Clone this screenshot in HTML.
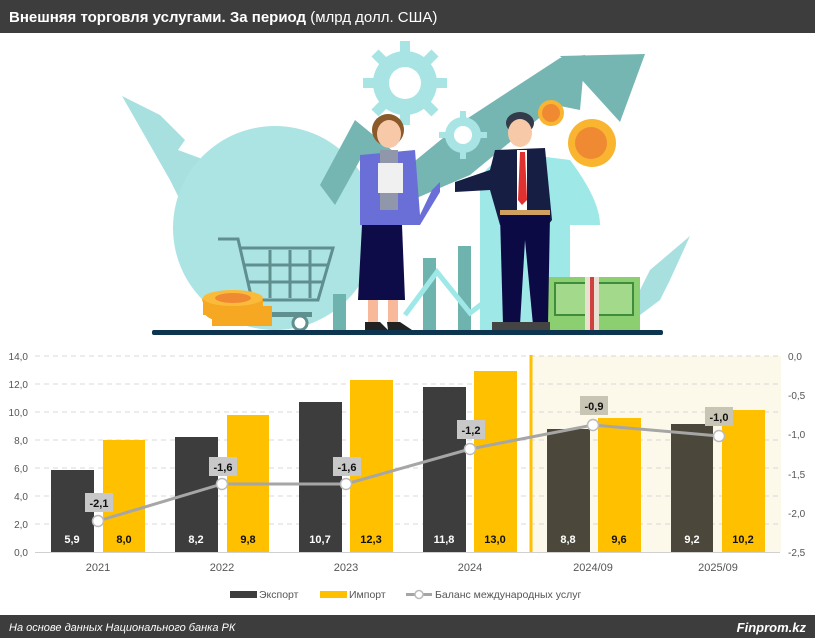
<!DOCTYPE html>
<html><head><meta charset="utf-8"><style>
html,body{margin:0;padding:0;background:#fff;}
svg{display:block;font-family:"Liberation Sans",sans-serif;}
</style></head><body>
<svg width="815" height="638" viewBox="0 0 815 638" xmlns="http://www.w3.org/2000/svg">
<rect x="0" y="0" width="815" height="638" fill="#fff"/>
<rect x="0" y="0" width="815" height="33" fill="#3d3d3d"/>
<text x="9" y="22" font-size="15" fill="#fff" font-weight="bold">Внешняя торговля услугами. За период <tspan font-weight="normal">(млрд долл. США)</tspan></text>

<!-- illustration -->
<g>
<path d="M122 96 L160 115 L185 140 L178 150 L205 160 L222 185 L212 195 L230 205 L200 240 L180 200 L170 180 Z" fill="#a8e0e0"/>
<circle cx="275" cy="228" r="102" fill="#ace4e4"/>
<path d="M320 185 L355 120 L410 165 L465 120 L560 58 L585 55 L580 110 L555 105 L470 175 L412 200 L360 160 L335 205 Z" fill="#75b6b3"/>
<path d="M560 56 L645 54 L620 122 Z" fill="#75b6b3"/>
<path d="M590 330 L640 290 L650 270 L690 236 L670 280 L660 300 L620 330 Z" fill="#a8e0e0"/>
<circle cx="405" cy="83" r="32" fill="#a8e4e4"/>
<g stroke="#a8e4e4" stroke-width="10"><line x1="405" y1="41" x2="405" y2="125"/><line x1="363" y1="83" x2="447" y2="83"/><line x1="375" y1="53" x2="435" y2="113"/><line x1="435" y1="53" x2="375" y2="113"/></g>
<circle cx="405" cy="83" r="16" fill="#fff"/>
<circle cx="463" cy="135" r="18" fill="#a8e4e4"/>
<g stroke="#a8e4e4" stroke-width="6"><line x1="463" y1="111" x2="463" y2="159"/><line x1="439" y1="135" x2="487" y2="135"/></g>
<circle cx="463" cy="135" r="9" fill="#fff"/>
<path d="M480 330 L480 180 Q490 155 530 155 L570 160 Q600 200 600 225 L570 225 L570 330 Z" fill="#9ee8e8"/>
<rect x="333" y="294" width="13" height="37" fill="#6fb3ae"/>
<rect x="423" y="258" width="13" height="73" fill="#6fb3ae"/>
<rect x="458" y="246" width="13" height="85" fill="#6fb3ae"/>
<polyline points="405,315 437,272 470,313 500,290" fill="none" stroke="#9ee8e8" stroke-width="5"/>
<g fill="none" stroke="#5f8f8f" stroke-width="3"><polyline points="218,239 238,239 252,300 318,300 333,248 240,248"/><line x1="245" y1="265" x2="328" y2="265"/><line x1="248" y1="282" x2="322" y2="282"/><line x1="270" y1="250" x2="270" y2="298"/><line x1="290" y1="250" x2="290" y2="298"/><line x1="310" y1="250" x2="310" y2="298"/></g>
<rect x="250" y="312" width="62" height="5" fill="#5f8f8f"/>
<circle cx="300" cy="323" r="7" fill="#fff" stroke="#5f8f8f" stroke-width="3"/>
<ellipse cx="238" cy="313" rx="33" ry="10" fill="#f7a823"/>
<rect x="212" y="306" width="60" height="20" fill="#f7a823"/>
<ellipse cx="232" cy="300" rx="30" ry="9" fill="#f9b530"/>
<rect x="203" y="300" width="60" height="15" fill="#f7a823"/>
<ellipse cx="233" cy="298" rx="30" ry="8" fill="#fbbb3a"/>
<ellipse cx="233" cy="298" rx="18" ry="5" fill="#ef8a32"/>
<rect x="548" y="277" width="92" height="53" fill="#8ccf70"/>
<rect x="555" y="283" width="78" height="32" fill="#a3d98a" stroke="#3f8c3f" stroke-width="2"/>
<rect x="585" y="277" width="14" height="53" fill="#e8e0d0"/>
<rect x="590" y="277" width="4" height="53" fill="#d04040"/>
<circle cx="551" cy="113" r="13" fill="#f9b530"/><circle cx="551" cy="113" r="9" fill="#ef8a32"/>
<circle cx="592" cy="143" r="24" fill="#f9b530"/><circle cx="591" cy="143" r="16" fill="#ef8a32"/>
<!-- woman -->
<ellipse cx="388" cy="130" rx="16" ry="16" fill="#8a5a2b"/>
<ellipse cx="389" cy="134" rx="12" ry="14" fill="#f8c9a8"/>
<path d="M360 155 L415 150 L420 215 L432 190 L440 182 L440 192 L420 225 L400 225 L400 230 L360 225 Z" fill="#6a6fd8"/>
<rect x="380" y="150" width="18" height="60" fill="#9097ab"/>
<rect x="378" y="163" width="25" height="30" fill="#f0f0f0"/>
<path d="M362 225 L402 225 L405 300 L358 300 Z" fill="#0d0b48"/>
<rect x="368" y="300" width="10" height="22" fill="#f8b89a"/><rect x="388" y="300" width="10" height="22" fill="#f8b89a"/>
<path d="M365 322 L380 322 L388 330 L365 330 Z" fill="#222"/><path d="M387 322 L400 322 L412 330 L388 330 Z" fill="#222"/>
<!-- man -->
<ellipse cx="520" cy="123" rx="14" ry="11" fill="#333a4a"/>
<ellipse cx="520" cy="133" rx="12" ry="14" fill="#f8c9a8"/>
<path d="M495 150 L545 148 L552 220 L548 225 L500 225 L490 190 L455 192 L455 182 L490 170 Z" fill="#161e44"/>
<rect x="517" y="150" width="10" height="60" fill="#fff"/>
<path d="M520 152 L525 152 L527 200 L522 205 L518 200 Z" fill="#e03030"/>
<rect x="500" y="210" width="50" height="5" fill="#d0a060"/>
<path d="M500 215 L550 215 L548 325 L533 325 L525 240 L520 325 L503 325 Z" fill="#0c0a44"/>
<rect x="492" y="322" width="30" height="8" fill="#444"/><rect x="520" y="322" width="30" height="8" fill="#444"/>
<rect x="152" y="330" width="511" height="5" rx="2" fill="#0d3550"/>
</g>

<!-- chart -->
<rect x="531" y="356" width="250" height="196" fill="#fdf9ea"/>
<g stroke="#d8d8d8" stroke-width="1" stroke-dasharray="5,4">
<line x1="35" y1="356" x2="780" y2="356"/><line x1="35" y1="384" x2="780" y2="384"/><line x1="35" y1="412" x2="780" y2="412"/><line x1="35" y1="440" x2="780" y2="440"/><line x1="35" y1="468" x2="780" y2="468"/><line x1="35" y1="496" x2="780" y2="496"/><line x1="35" y1="524" x2="780" y2="524"/>
</g>
<line x1="35" y1="552.5" x2="780" y2="552.5" stroke="#d0d0d0"/>
<line x1="531" y1="355" x2="531" y2="552" stroke="#ffc000" stroke-width="3"/>
<g font-size="10" fill="#555" text-anchor="end">
<text x="28" y="360">14,0</text><text x="28" y="388">12,0</text><text x="28" y="416">10,0</text><text x="28" y="444">8,0</text><text x="28" y="472">6,0</text><text x="28" y="500">4,0</text><text x="28" y="528">2,0</text><text x="28" y="556">0,0</text>
</g>
<g font-size="10" fill="#555">
<text x="788" y="360">0,0</text><text x="788" y="399">-0,5</text><text x="788" y="438">-1,0</text><text x="788" y="478">-1,5</text><text x="788" y="517">-2,0</text><text x="788" y="556">-2,5</text>
</g>
<g>
<rect x="51" y="470" width="43" height="82" fill="#3d3d3d"/><rect x="103" y="440" width="42" height="112" fill="#ffc000"/>
<rect x="175" y="437" width="43" height="115" fill="#3d3d3d"/><rect x="227" y="415" width="42" height="137" fill="#ffc000"/>
<rect x="299" y="402" width="43" height="150" fill="#3d3d3d"/><rect x="350" y="380" width="43" height="172" fill="#ffc000"/>
<rect x="423" y="387" width="43" height="165" fill="#3d3d3d"/><rect x="474" y="371" width="43" height="181" fill="#ffc000"/>
<rect x="547" y="429" width="43" height="123" fill="#4b473a"/><rect x="598" y="418" width="43" height="134" fill="#ffc000"/>
<rect x="671" y="424" width="42" height="128" fill="#4b473a"/><rect x="722" y="410" width="43" height="142" fill="#ffc000"/>
</g>
<g font-size="11" font-weight="bold" text-anchor="middle">
<g fill="#fff"><text x="72" y="543">5,9</text><text x="196" y="543">8,2</text><text x="320" y="543">10,7</text><text x="444" y="543">11,8</text><text x="568" y="543">8,8</text><text x="692" y="543">9,2</text></g>
<g fill="#111"><text x="124" y="543">8,0</text><text x="248" y="543">9,8</text><text x="371" y="543">12,3</text><text x="495" y="543">13,0</text><text x="619" y="543">9,6</text><text x="743" y="543">10,2</text></g>
</g>
<polyline points="98,521 222,484 346,484 470,449 593,425 719,436" fill="none" stroke="#a6a6a6" stroke-width="3"/>
<g fill="#fff" stroke="#bbb" stroke-width="1.5">
<circle cx="98" cy="521" r="5.5"/><circle cx="222" cy="484" r="5.5"/><circle cx="346" cy="484" r="5.5"/><circle cx="470" cy="449" r="5.5"/><circle cx="593" cy="425" r="5.5"/><circle cx="719" cy="436" r="5.5"/>
</g>
<g fill="#c8c8c8"><rect x="85" y="493" width="28" height="19"/><rect x="209" y="457" width="28" height="19"/><rect x="333" y="457" width="28" height="19"/><rect x="457" y="420" width="28" height="19"/></g>
<g fill="#c9c5b5"><rect x="580" y="396" width="28" height="19"/><rect x="705" y="407" width="28" height="19"/></g>
<g font-size="11" font-weight="bold" fill="#111" text-anchor="middle">
<text x="99" y="507">-2,1</text><text x="223" y="471">-1,6</text><text x="347" y="471">-1,6</text><text x="471" y="434">-1,2</text><text x="594" y="410">-0,9</text><text x="719" y="421">-1,0</text>
</g>
<g font-size="11" fill="#555" text-anchor="middle">
<text x="98" y="571">2021</text><text x="222" y="571">2022</text><text x="346" y="571">2023</text><text x="470" y="571">2024</text><text x="593" y="571">2024/09</text><text x="718" y="571">2025/09</text>
</g>
<rect x="230" y="591" width="27" height="7" fill="#3d3d3d"/>
<text x="259" y="598" font-size="10.5" fill="#555">Экспорт</text>
<rect x="320" y="591" width="27" height="7" fill="#ffc000"/>
<text x="349" y="598" font-size="10.5" fill="#555">Импорт</text>
<line x1="406" y1="594.5" x2="432" y2="594.5" stroke="#a6a6a6" stroke-width="3"/>
<circle cx="419" cy="594.5" r="4" fill="#fff" stroke="#bbb" stroke-width="1.5"/>
<text x="435" y="598" font-size="10.5" fill="#555">Баланс международных услуг</text>

<rect x="0" y="615" width="815" height="23" fill="#3d3d3d"/>
<text x="9" y="631" font-size="11" font-style="italic" fill="#fff">На основе данных Национального банка РК</text>
<text x="806" y="632" font-size="13" font-weight="bold" font-style="italic" fill="#fff" text-anchor="end">Finprom.kz</text>
</svg>
</body></html>
